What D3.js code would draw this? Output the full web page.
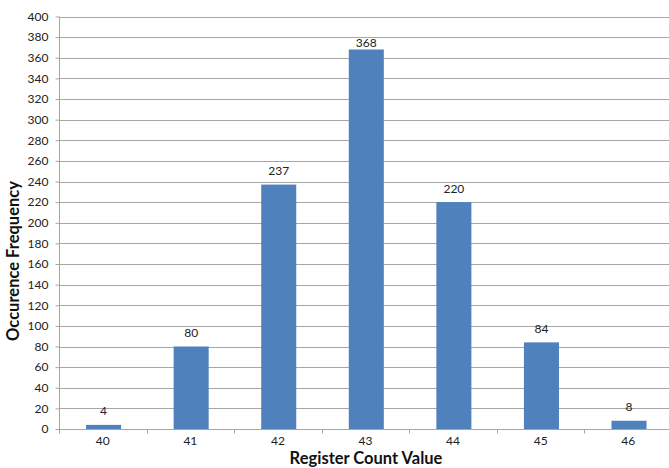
<!DOCTYPE html>
<html><head><meta charset="utf-8">
<script src="https://cdn.jsdelivr.net/npm/d3@7"></script>
<style>body{margin:0;background:#fff}svg{display:block}text{font-family:Lato,"Open Sans",sans-serif}</style>
</head><body><svg id="c" width="669" height="468"></svg>
<script>
const categories = ["40","41","42","43","44","45","46"];
const values = [4, 80, 237, 368, 220, 84, 8];
const yTicks = d3.range(0, 401, 20);

const svg = d3.select("#c");
const m = {left: 59, right: 672, top: 16.5, bottom: 429};
const xb = d3.scaleBand().domain(categories).range([m.left, m.right]);
const y = d3.scaleLinear().domain([0, 400]).range([m.bottom, m.top]);

// gridlines
svg.append("g").selectAll("line").data(yTicks.slice(1)).join("line")
  .attr("x1", m.left).attr("x2", m.right)
  .attr("y1", d => Math.round(y(d)) + 0.5).attr("y2", d => Math.round(y(d)) + 0.5)
  .attr("stroke", "#a6a6a6").attr("stroke-width", 1);

// bars
svg.append("g").selectAll("rect").data(values).join("rect")
  .attr("x", (d, i) => xb(categories[i]) + xb.bandwidth() * 0.3 + 0.8)
  .attr("width", xb.bandwidth() * 0.4)
  .attr("y", d => y(d)).attr("height", d => y(0) - y(d))
  .attr("fill", "#4f81bd");

// bar labels
svg.append("g").selectAll("text").data(values).join("text")
  .attr("x", (d, i) => xb(categories[i]) + xb.bandwidth() / 2 + 0.8)
  .attr("y", d => Math.max(y(d) - 9.5, m.top + 30.5))
  .attr("text-anchor", "middle").attr("font-size", 12).attr("fill", "#222")
  .text(d => d);

// y axis
const ya = svg.append("g").attr("transform", `translate(${m.left + 0.5},0)`)
  .call(d3.axisLeft(y).tickValues(yTicks).tickSize(4).tickPadding(7));
ya.selectAll("text").attr("font-size", 12).attr("fill", "#222").style("font-family", "Lato, sans-serif");
ya.selectAll("line").attr("stroke", "#a6a6a6");
ya.select(".domain").attr("stroke", "#a6a6a6").attr("d", `M0,${m.top}V${m.bottom}`);

// x axis
const xa = svg.append("g").attr("transform", `translate(0,${m.bottom + 0.5})`)
  .call(d3.axisBottom(xb).tickSize(0).tickPadding(7));
xa.selectAll("text").attr("font-size", 12).attr("fill", "#222").style("font-family", "Lato, sans-serif");
xa.select(".domain").attr("stroke", "#a6a6a6").attr("d", `M${m.left},0H${m.right}`);
// category boundary ticks
xa.append("g").selectAll("line").data(d3.range(categories.length + 1)).join("line")
  .attr("x1", i => Math.round(m.left + i * xb.step()) + 0.5)
  .attr("x2", i => Math.round(m.left + i * xb.step()) + 0.5)
  .attr("y1", 0).attr("y2", 4).attr("stroke", "#a6a6a6");

// axis titles
svg.append("text").attr("x", 366).attr("y", 464).attr("text-anchor", "middle")
  .attr("font-size", 16.5).attr("font-weight", "bold").attr("fill", "#111").text("Register Count Value");
svg.append("text").attr("transform", "translate(19,261) rotate(-90)").attr("text-anchor", "middle")
  .attr("font-size", 16.5).attr("font-weight", "bold").attr("fill", "#111").text("Occurence Frequency");
</script></body></html>
